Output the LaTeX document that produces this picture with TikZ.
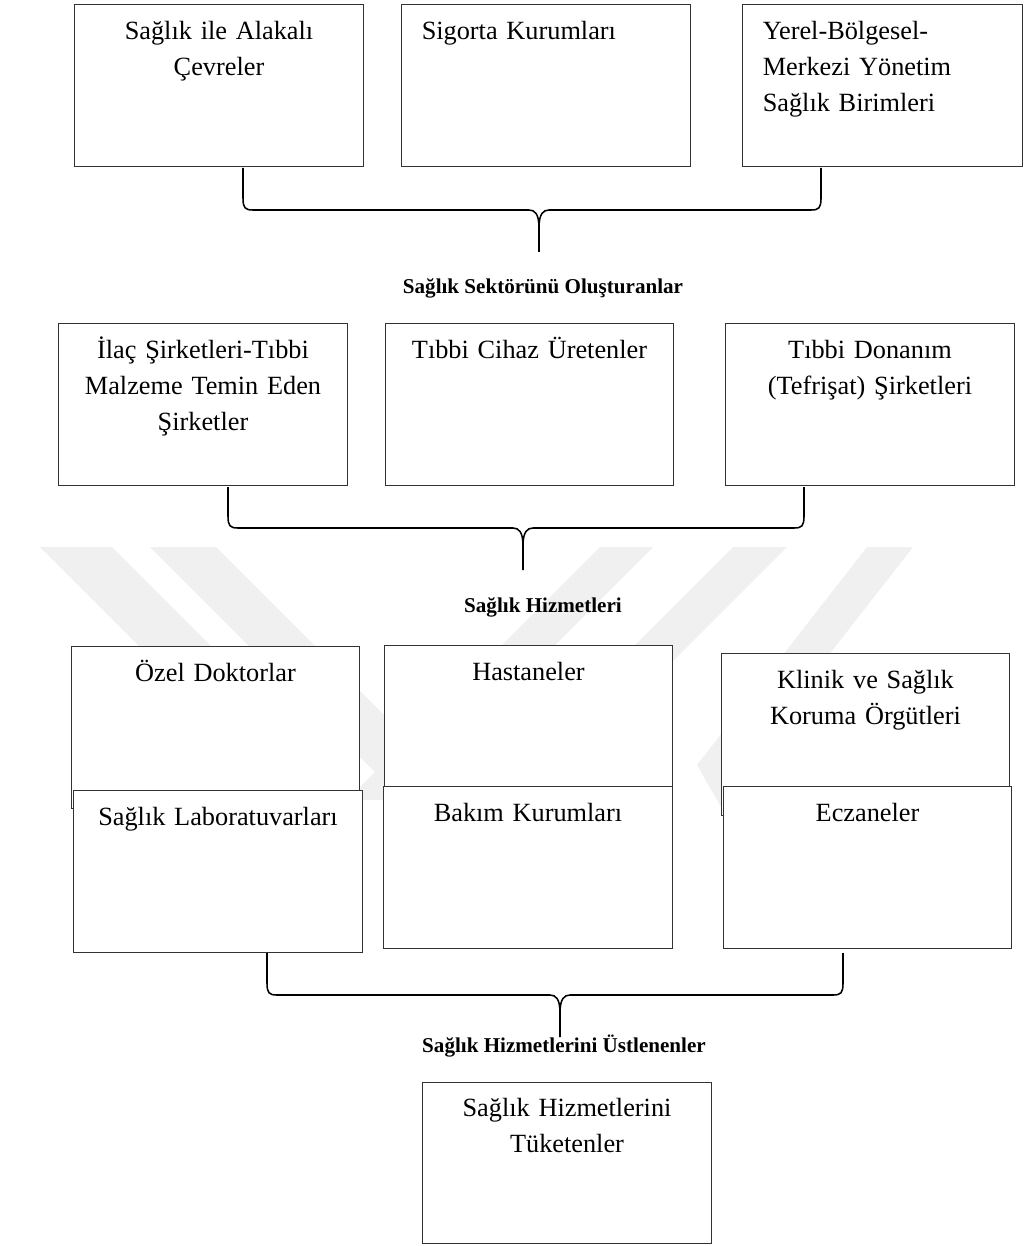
\documentclass[tikz,border=0pt]{standalone}
\usepackage{fontspec}
\setmainfont{Liberation Serif}
\usetikzlibrary{positioning}
\newcommand{\kutuyazi}{\fontsize{18.7}{25.6}\selectfont}
\newcommand{\baslikyazi}{\fontsize{15}{18}\selectfont\bfseries}

\begin{document}
\begin{tikzpicture}[
    x=0.025cm, y=-0.025cm,
    %% plain white box
    kutu/.style   = {rectangle, draw=black!80, line width=0.7pt, fill=white,
                     minimum width=7.2cm, minimum height=4.025cm, inner sep=0pt},
    %% centred box text
    yazi/.style   = {inner sep=0pt, text width=6.9cm, align=center, font=\kutuyazi},
    %% left aligned box text
    yaziL/.style  = {inner sep=0pt, text width=6.4cm, align=left, font=\kutuyazi},
    %% bold group title
    baslik/.style = {inner sep=0pt, anchor=base, font=\baslikyazi},
    kume/.style   = {line width=1.1pt, line join=round},
    damga/.style  = {fill=black!6},
]
\useasboundingbox (0,0) rectangle (1024,1246);

%% ---- faint watermark ----
\fill[damga] (40,547) -- (112,547) -- (365,800) -- (293,800) -- cycle;
\fill[damga] (150,547) -- (216,547) -- (469,800) -- (403,800) -- cycle;
\fill[damga] (600,547) -- (653,547) -- (400,800) -- (347,800) -- cycle;
\fill[damga] (733,547) -- (787,547) -- (534,800) -- (480,800) -- cycle;
\fill[damga] (867,547) -- (913,547) -- (743,765) -- (820,900) -- (774,900) -- (697,765) -- cycle;

%% ---- Row 1 ----
\node[kutu] (cevre)   at (219,85.5) {};
\node[kutu] (sigorta) at (546,85.5) {};
\node[kutu, minimum width=6.975cm] (yonetim) at (882.5,85.5) {};

\node[yazi, below=24.9pt of cevre.north, anchor=base] (tcevre) {Sağlık ile Alakalı\\Çevreler};
\node[yaziL, below right=24.9pt and 0.5cm of sigorta.north west, anchor=base west] (tsigorta) {Sigorta Kurumları};
\node[yaziL, below right=24.9pt and 0.5cm of yonetim.north west, anchor=base west] (tyonetim) {Yerel-Bölgesel-\\Merkezi Yönetim\\Sağlık Birimleri};

%% brace 1
\coordinate (k1l) at (243,168);
\coordinate (k1r) at (821,168);
\coordinate (k1t) at (539,252);
\draw[kume] (k1l) -- (243,198) .. controls (243,208) and (245,210) .. (253,210)
    -- (529,210) .. controls (535,210) and (539,214) .. (539,228) -- (k1t);
\draw[kume] (k1r) -- (821,198) .. controls (821,208) and (819,210) .. (811,210)
    -- (549,210) .. controls (543,210) and (539,214) .. (539,228);

\node[baslik] (sektor) at (543,294) {Sağlık Sektörünü Oluşturanlar};

%% ---- Row 2 ----
\node[kutu] (ilac)    at (203,404.5) {};
\node[kutu] (cihaz)   at (529.5,404.5) {};
\node[kutu] (donanim) at (870,404.5) {};

\node[yazi, below=24.9pt of ilac.north, anchor=base] (tilac) {İlaç Şirketleri-Tıbbi\\Malzeme Temin Eden\\Şirketler};
\node[yazi, below=24.9pt of cihaz.north, anchor=base] (tcihaz) {Tıbbi Cihaz Üretenler};
\node[yazi, below=24.9pt of donanim.north, anchor=base] (tdonanim) {Tıbbi Donanım\\(Tefrişat) Şirketleri};

%% brace 2
\coordinate (k2l) at (228,487);
\coordinate (k2r) at (804,487);
\coordinate (k2t) at (523,570);
\draw[kume] (k2l) -- (228,516) .. controls (228,526) and (230,528) .. (238,528)
    -- (513,528) .. controls (519,528) and (523,532) .. (523,546) -- (k2t);
\draw[kume] (k2r) -- (804,516) .. controls (804,526) and (802,528) .. (794,528)
    -- (533,528) .. controls (527,528) and (523,532) .. (523,546);

\node[baslik] (hizmet) at (543,612) {Sağlık Hizmetleri};

%% ---- Row 3 (two overlapping layers) ----
\node[kutu] (doktor)  at (215.5,727.5) {};
\node[kutu] (hastane) at (528.5,726.5) {};
\node[kutu] (klinik)  at (865.5,734.5) {};

\node[yazi, below=24.9pt of doktor.north, anchor=base] (tdoktor) {Özel Doktorlar};
\node[yazi, below=24.9pt of hastane.north, anchor=base] (thastane) {Hastaneler};
\node[yazi, below=24.9pt of klinik.north, anchor=base] (tklinik) {Klinik ve Sağlık\\Koruma Örgütleri};

\node[kutu] (lab)    at (218,871.5) {};
\node[kutu] (bakim)  at (528,867.5) {};
\node[kutu] (eczane) at (867.5,867.5) {};

\node[yazi, below=24.9pt of lab.north, anchor=base] (tlab) {Sağlık Laboratuvarları};
\node[yazi, below=24.9pt of bakim.north, anchor=base] (tbakim) {Bakım Kurumları};
\node[yazi, below=24.9pt of eczane.north, anchor=base] (teczane) {Eczaneler};

%% brace 3
\coordinate (k3l) at (267,953);
\coordinate (k3r) at (843,953);
\coordinate (k3t) at (560,1037);
\draw[kume] (k3l) -- (267,983) .. controls (267,993) and (269,995) .. (277,995)
    -- (550,995) .. controls (556,995) and (560,999) .. (560,1013) -- (k3t);
\draw[kume] (k3r) -- (843,983) .. controls (843,993) and (841,995) .. (833,995)
    -- (570,995) .. controls (564,995) and (560,999) .. (560,1013);

\node[baslik] (ustlenen) at (564,1052) {Sağlık Hizmetlerini Üstlenenler};

%% ---- Row 4 ----
\node[kutu] (tuketen) at (567,1162.5) {};
\node[yazi, below=24.9pt of tuketen.north, anchor=base] (ttuketen) {Sağlık Hizmetlerini\\Tüketenler};

\end{tikzpicture}
\end{document}
